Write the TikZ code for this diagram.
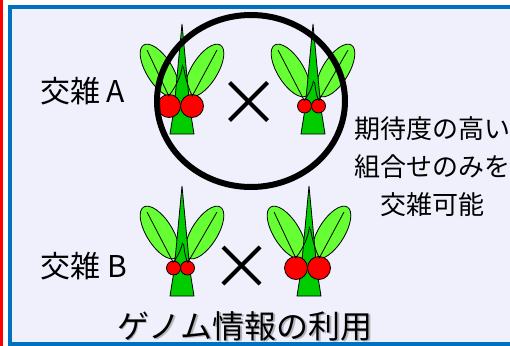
\documentclass[tikz,border=0pt]{standalone}
\usepackage{fontspec}
\setmainfont{Noto Sans CJK JP}
\definecolor{panelfill}{HTML}{F0F0FC}
\definecolor{panelblue}{HTML}{0070C0}
\definecolor{barred}{HTML}{FF0000}
\definecolor{leafgreen}{HTML}{66FF33}
\definecolor{stalkgreen}{HTML}{00CC00}
\definecolor{cherryred}{HTML}{FF0000}
\tikzset{
  leafshape/.style={draw=black, line width=0.8pt, fill=leafgreen},
  stalkshape/.style={draw=black, line width=0.8pt, fill=stalkgreen},
  cherryshape/.style={draw=black, line width=0.8pt, fill=cherryred},
  vein/.style={draw=black, line width=0.8pt},
  crossmark/.style={draw=black, line width=4pt},
  label/.style={inner sep=0pt, font=\fontsize{30}{36}\selectfont},
  note/.style={inner sep=0pt, font=\fontsize{26}{30}\selectfont},
  title/.style={inner sep=0pt, font=\fontsize{32}{38}\selectfont},
  % one plant: tip at the pic origin, #1 = cherry radius
  pics/plant/.style={code={
    \draw[leafshape, shift={(-22.5,46.5)}, rotate=-58] (0,0) ellipse [x radius=30pt, y radius=13pt];
    \draw[leafshape, shift={(22.5,46.5)}, rotate=58] (0,0) ellipse [x radius=30pt, y radius=13pt];
    \draw[stalkshape] (0,0) -- (8,85) -- (12,110) -- (-12,110) -- (-8,85) -- cycle;
    \draw[cherryshape] (-1.5-#1,82) circle [radius=#1pt];
    \draw[cherryshape] (-1.5+#1,82) circle [radius=#1pt];
    \draw[vein] (-35,26) -- (-1.5-#1,84-#1);
    \draw[vein] (35,26) -- (-1.5+#1,84-#1);
    \draw[vein] (-1.5-#1,83-#1) .. controls (-1.5-0.3*#1,82-1.8*#1) and (-0.5,82-2.8*#1) .. (0.5,82-3.6*#1);
    \draw[vein] (-1.5+#1,83-#1) .. controls (-1.5+0.5*#1,82-2*#1) and (2.5,82-2.9*#1) .. (1.5,82-3.4*#1);
  }}
}
\begin{document}
\begin{tikzpicture}[x=1pt,y=-1pt]
\useasboundingbox (0,0) rectangle (510,345);
% side bar and panel
\fill[barred] (0,-5) rectangle (3,350);
\draw[panelblue, line width=4pt, fill=panelfill] (10,7) rectangle (530,344);

% plants
\pic at (182,24) {plant=11.5};
\pic at (313,24) {plant=7};
\pic at (182,186) {plant=7};
\pic at (309,186) {plant=11.5};

% crossing marks
\coordinate (xa) at (248.5,101.5);
\coordinate (xb) at (241.5,265.5);
\draw[crossmark] ([shift={(-19,-19)}]xa) -- ([shift={(19,19)}]xa);
\draw[crossmark] ([shift={(-19,19)}]xa) -- ([shift={(19,-19)}]xa);
\draw[crossmark] ([shift={(-18.5,-18.5)}]xb) -- ([shift={(18.5,18.5)}]xb);
\draw[crossmark] ([shift={(-18.5,18.5)}]xb) -- ([shift={(18.5,-18.5)}]xb);

% selection ring
\draw[black, line width=6pt] (251,101) ellipse [x radius=94pt, y radius=86pt];

% labels
\node[label] (crossA) at (82.5,91.5) {交雑 A};
\node[label] (crossB) at (83.5,266) {交雑 B};
\node[note] (line1) at (432,128.5) {期待度の高い};
\node[note] (line2) at (432,166.5) {組合せのみを};
\node[note] (line3) at (432,204.5) {交雑可能};
\node[title, text=black!45, opacity=0.6] (titleshadow) at (246.5,327.5) {ゲノム情報の利用};
\node[title] (titletext) at (245,326) {ゲノム情報の利用};
\end{tikzpicture}
\end{document}
